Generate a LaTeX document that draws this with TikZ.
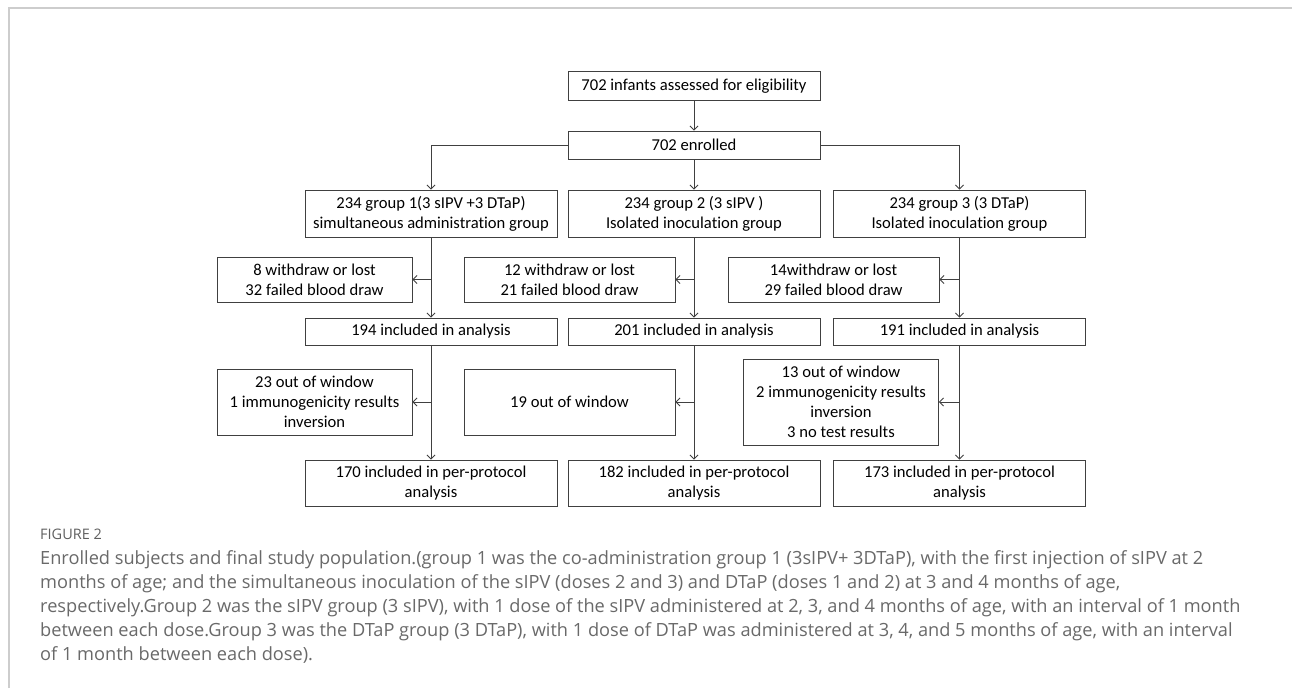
\documentclass[tikz,border=0pt]{standalone}
\usepackage{fontspec}
\usepackage{xcolor}
\usepackage{tikz}
\usetikzlibrary{arrows.meta}
\setmainfont{Carlito}[Ligatures=NoCommon]
\newfontfamily\capfont{Open Sans}
\definecolor{boxline}{RGB}{64,64,64}
\definecolor{capgray}{RGB}{105,105,105}
\definecolor{framegray}{RGB}{205,205,205}

\begin{document}
\begin{tikzpicture}[x=1pt, y=-1pt,
    box/.style={draw=boxline, line width=0.9pt, inner sep=0pt, align=center, font=\fontsize{16.6}{20}\selectfont},
    wide/.style={box, minimum width=252pt},
    side/.style={box, minimum width=195pt},
    arr/.style={draw=boxline, line width=0.9pt, -{Straight Barb[length=4pt,width=8pt]}},
    capline/.style={anchor=base west, inner sep=0pt, text=capgray, font=\capfont\fontsize{18.2}{24}\selectfont}]
    \useasboundingbox (0,0) rectangle (1292,688);
    % frame
    \draw[framegray, line width=1.5pt] (9,688) -- (9,8) -- (1292,8);

    \node[wide, minimum height=29pt] (elig) at (694,86) {702 infants assessed for eligibility};
    \node[wide, minimum height=28pt] (enr) at (694,145) {702 enrolled};

    \node[wide, minimum height=47pt] (g1) at (431,213.5) {234 group 1(3 sIPV +3 DTaP)\\simultaneous administration group};
    \node[wide, minimum height=47pt] (g2) at (694,213.5) {234 group 2 (3 sIPV )\\Isolated inoculation group};
    \node[wide, minimum height=47pt] (g3) at (959.5,213.5) {234 group 3 (3 DTaP)\\Isolated inoculation group};

    \node[side, minimum height=45pt] (x1) at (314.5,279.5) {8 withdraw or lost\\32 failed blood draw};
    \node[box, minimum width=211pt, minimum height=45pt] (x2) at (569.5,279.5) {12 withdraw or lost\\21 failed blood draw};
    \node[box, minimum width=211pt, minimum height=45pt] (x3) at (833.5,279.5) {14withdraw or lost\\29 failed blood draw};

    \node[wide, minimum height=27pt] (a1) at (431,331.5) {194 included in analysis};
    \node[wide, minimum height=27pt] (a2) at (694,331.5) {201 included in analysis};
    \node[wide, minimum height=27pt] (a3) at (959.5,331.5) {191 included in analysis};

    \node[side, minimum height=66pt] (w1) at (314.5,402) {23 out of window\\1 immunogenicity results\\inversion};
    \node[box, minimum width=211pt, minimum height=66pt] (w2) at (569.5,402) {19 out of window};
    \node[side, minimum height=86pt] (w3) at (841,402) {13 out of window\\2 immunogenicity results\\inversion\\3 no test results};

    \node[wide, minimum height=46pt] (p1) at (431,483) {170 included in per-protocol\\analysis};
    \node[wide, minimum height=46pt] (p2) at (694,483) {182 included in per-protocol\\analysis};
    \node[wide, minimum height=46pt] (p3) at (959.5,483) {173 included in per-protocol\\analysis};

    \draw[arr] (elig) -- (enr);
    \draw[arr] (enr.west) -| (g1.north);
    \draw[arr] (enr) -- (g2);
    \draw[arr] (enr.east) -| (g3.north);

    \draw[arr] (g1) -- (a1);
    \draw[arr] (g2) -- (a2);
    \draw[arr] (g3) -- (a3);
    \draw[arr] (g1.south |- x1.east) -- (x1.east);
    \draw[arr] (g2.south |- x2.east) -- (x2.east);
    \draw[arr] (g3.south |- x3.east) -- (x3.east);

    \draw[arr] (a1) -- (p1);
    \draw[arr] (a2) -- (p2);
    \draw[arr] (a3) -- (p3);
    \draw[arr] (a1.south |- w1.east) -- (w1.east);
    \draw[arr] (a2.south |- w2.east) -- (w2.east);
    \draw[arr] (a3.south |- w3.east) -- (w3.east);

    % caption
    \node[capline, text=capgray!90!black, font=\capfont\fontsize{14.5}{16}\selectfont] (fig) at (40,539.5) {FIGURE 2};
    \node[capline] (c1) at (40,564) {Enrolled subjects and final study population.(group 1 was the co-administration group 1 (3sIPV+ 3DTaP), with the first injection of sIPV at 2};
    \node[capline] (c2) at (40,588) {months of age; and the simultaneous inoculation of the sIPV (doses 2 and 3) and DTaP (doses 1 and 2) at 3 and 4 months of age,};
    \node[capline] (c3) at (40,612) {respectively.Group 2 was the sIPV group (3 sIPV), with 1 dose of the sIPV administered at 2, 3, and 4 months of age, with an interval of 1 month};
    \node[capline] (c4) at (40,636) {between each dose.Group 3 was the DTaP group (3 DTaP), with 1 dose of DTaP was administered at 3, 4, and 5 months of age, with an interval};
    \node[capline] (c5) at (40,660) {of 1 month between each dose).};
\end{tikzpicture}
\end{document}
